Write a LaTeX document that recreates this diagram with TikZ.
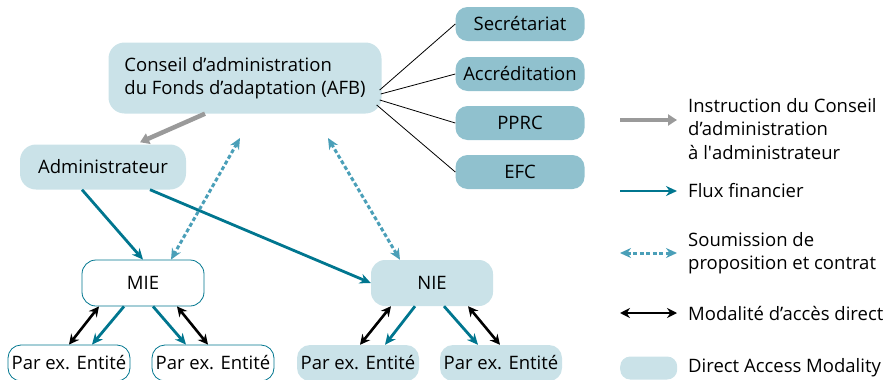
\documentclass[tikz,border=0pt]{standalone}
\usepackage{fontspec}
\setmainfont{Open Sans}
\newfontfamily\plainquote{Open Sans}
\usetikzlibrary{arrows.meta}
\definecolor{lightbox}{HTML}{CAE2E8}
\definecolor{darkbox}{HTML}{90C1CE}
\definecolor{fluxcol}{HTML}{00768F}
\definecolor{submitcol}{HTML}{4A9FB8}
\definecolor{instrcol}{HTML}{9A9A9A}
\begin{document}
\begin{tikzpicture}
      [x=1pt,y=-1pt,inner sep=0pt,
       font=\fontsize{18.5}{23.5}\selectfont,
       board/.style={rounded corners=16pt,fill=lightbox,align=left},
       unit/.style={rounded corners=12pt,fill=darkbox,minimum width=129pt,minimum height=34pt},
       entity/.style={rounded corners=14pt,minimum width=122pt,minimum height=46pt},
       leaf/.style={rounded corners=13pt,minimum width=122pt,minimum height=36pt},
       open/.style={draw=fluxcol,fill=white,line width=0.8pt},
       shaded/.style={fill=lightbox},
       instr/.style={-{Triangle[length=9pt,width=11pt]},draw=instrcol,line width=4.5pt},
       flux/.style={-{Stealth[length=11pt,width=10pt]},draw=fluxcol,line width=2.8pt},
       submit/.style={{Stealth[length=11pt,width=10pt]}-{Stealth[length=11pt,width=10pt]},draw=submitcol,line width=3pt,dash pattern=on 4pt off 2.5pt},
       access/.style={{Stealth[length=10pt,width=10pt]}-{Stealth[length=10pt,width=10pt]},draw=black,line width=2.6pt},
       legend/.style={anchor=west,align=left}]
      \useasboundingbox (0,0) rectangle (889,380);
      \node at (245,78) (board) [board,minimum width=273pt,minimum height=71pt] {Conseil d’administration\\du Fonds d’adaptation (AFB)};
      \node at (103,167) (admin) [board,minimum width=166pt,minimum height=45pt] {Administrateur};
      \node at (520,24) (sec) [unit] {Secrétariat};
      \node at (520,74) (accr) [unit] {Accréditation};
      \node at (520,123) (pprc) [unit] {PPRC};
      \node at (520,172) (efc) [unit] {EFC};
      \node at (143,283) (mie) [entity,open] {MIE};
      \node at (432,283) (nie) [entity,shaded] {NIE};
      \node at (69,363) (e1) [leaf,open] {Par ex. Entité};
      \node at (213,363) (e2) [leaf,open] {Par ex. Entité};
      \node at (358,363) (e3) [leaf,shaded] {Par ex. Entité};
      \node at (501,363) (e4) [leaf,shaded] {Par ex. Entité};
      \draw [line width=0.8pt] ([shift={(-2,12)}]board.east) -- (sec.west);
      \draw [line width=0.8pt] ([shift={(-1,16)}]board.east) -- (accr.west);
      \draw [line width=0.8pt] ([shift={(-2,22)}]board.east) -- (pprc.west);
      \draw [line width=0.8pt] ([shift={(-5,27)}]board.east) -- (efc.west);
      \draw [instr] ([shift={(-40,0)}]board.south) -- ([shift={(37,-2)}]admin.north);
      \draw [flux] ([xshift=-21pt]admin.south) -- ([xshift=0pt]mie.north);
      \draw [flux] ([xshift=47pt]admin.south) -- (nie.west);
      \coordinate (s1) at (240,138);
      \coordinate (s2) at (328,138);
      \draw [submit] (s1) -- ([xshift=28pt]mie.north);
      \draw [submit] (s2) -- ([xshift=-32pt]nie.north);
      % MIE branch
      \draw [access] ([xshift=-44pt]mie.south) -- (e1.north);
      \draw [flux] ([xshift=-19pt]mie.south) -- ([xshift=23pt]e1.north);
      \draw [flux] ([xshift=10pt]mie.south) -- ([xshift=-27pt]e2.north);
      \draw [access] ([xshift=34pt]mie.south) -- ([xshift=-5pt]e2.north);
      % NIE branch
      \draw [access] ([xshift=-41pt]nie.south) -- ([xshift=2pt]e3.north);
      \draw [flux] ([xshift=-17pt]nie.south) -- ([xshift=27pt]e3.north);
      \draw [flux] ([xshift=12pt]nie.south) -- ([xshift=-23pt]e4.north);
      \draw [access] ([xshift=36pt]nie.south) -- ([xshift=-1pt]e4.north);
      % legend
      \coordinate (l1a) at (620,120); \coordinate (l1b) at (677,120);
      \coordinate (l2a) at (620,191); \coordinate (l2b) at (677,191);
      \coordinate (l3a) at (620,253); \coordinate (l3b) at (677,253);
      \coordinate (l4a) at (620,313); \coordinate (l4b) at (677,313);
      \draw [instr,line width=4pt] (l1a) -- (l1b);
      \draw [flux] (l2a) -- (l2b);
      \draw [submit] (l3a) -- (l3b);
      \draw [access] (l4a) -- (l4b);
      \node at (620,368) (l5) [shaded,rounded corners=10pt,minimum width=57pt,minimum height=23pt,anchor=west] {};
      \node at (688,129) (t1) [legend] {Instruction du Conseil\\d’administration\\à l{\plainquote '}administrateur};
      \node at (688,191) (t2) [legend] {Flux financier};
      \node at (688,253) (t3) [legend] {Soumission de\\proposition et contrat};
      \node at (688,313) (t4) [legend] {Modalité d’accès direct};
      \node at (688,368) (t5) [legend] {Direct Access Modality};
    \end{tikzpicture}
\end{document}
